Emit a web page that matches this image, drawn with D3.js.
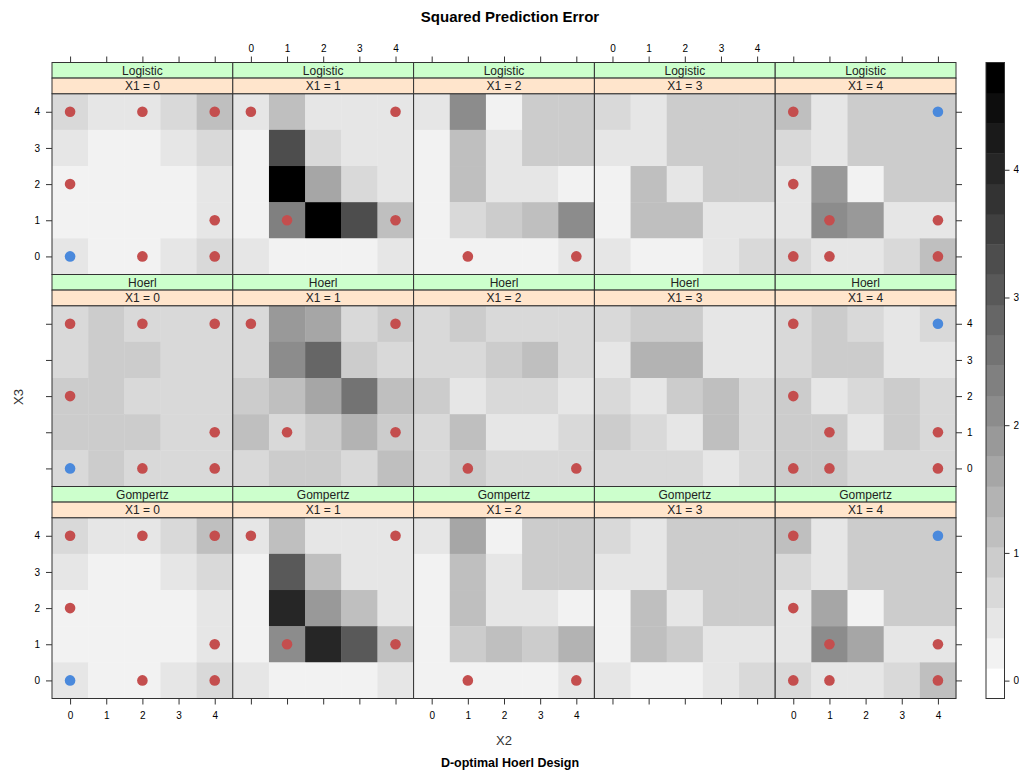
<!DOCTYPE html>
<html>
<head>
<meta charset="utf-8">
<script src="https://cdn.jsdelivr.net/npm/d3@7"></script>
<style>
  body { margin: 0; background: #fff; }
  svg text { font-family: "Liberation Sans", Arial, sans-serif; }
</style>
</head>
<body>
<svg id="chart" width="1019" height="771"></svg>
<script>
const models = ['Logistic', 'Hoerl', 'Gompertz'];
const x1Levels = [0, 1, 2, 3, 4];
const gridLevels = [0, 1, 2, 3, 4];
const keyTicks = [0, 1, 2, 3, 4];

// squared prediction error per X1 panel; rows are X3 = 4 (top) .. 0 (bottom), columns X2 = 0..4
const logistic = [
  [[0.7, 0.45, 0.45, 0.7, 1.15], [0.45, 0.2, 0.2, 0.45, 0.7], [0.2, 0.2, 0.2, 0.2, 0.45], [0.2, 0.2, 0.2, 0.2, 0.45], [0.45, 0.2, 0.2, 0.45, 0.7]],
  [[0.45, 1.15, 0.45, 0.45, 0.45], [0.2, 3.3, 0.7, 0.45, 0.45], [0.2, 4.7, 1.65, 0.7, 0.45], [0.2, 2.35, 4.7, 3.3, 1.15], [0.45, 0.2, 0.2, 0.2, 0.45]],
  [[0.45, 2.1, 0.2, 0.95, 0.95], [0.2, 1.15, 0.45, 0.95, 0.95], [0.2, 1.15, 0.45, 0.45, 0.2], [0.2, 0.7, 0.95, 1.15, 2.1], [0.2, 0.2, 0.2, 0.2, 0.45]],
  [[0.7, 0.45, 0.95, 0.95, 0.95], [0.45, 0.45, 0.95, 0.95, 0.95], [0.2, 1.15, 0.45, 0.95, 0.95], [0.2, 1.15, 1.15, 0.45, 0.45], [0.45, 0.2, 0.2, 0.45, 0.7]],
  [[1.15, 0.45, 0.95, 0.95, 0.95], [0.7, 0.45, 0.95, 0.95, 0.95], [0.45, 1.9, 0.2, 0.95, 0.95], [0.45, 2.1, 1.9, 0.45, 0.45], [0.7, 0.45, 0.45, 0.7, 1.15]]
];
const hoerl = [
  [[0.7, 0.95, 0.7, 0.7, 0.7], [0.7, 0.95, 0.95, 0.7, 0.7], [0.95, 0.95, 0.7, 0.7, 0.7], [0.95, 0.95, 0.95, 0.7, 0.7], [0.7, 0.95, 0.7, 0.7, 0.7]],
  [[0.7, 1.9, 1.65, 0.7, 0.95], [0.7, 2.1, 2.8, 0.95, 0.7], [0.95, 1.15, 1.65, 2.6, 1.15], [1.15, 0.7, 0.95, 1.4, 0.95], [0.7, 0.95, 0.95, 0.7, 1.15]],
  [[0.7, 0.95, 0.7, 0.7, 0.7], [0.7, 0.7, 0.95, 1.15, 0.7], [0.95, 0.45, 0.7, 0.7, 0.45], [0.7, 1.15, 0.45, 0.45, 0.7], [0.7, 0.95, 0.7, 0.7, 0.7]],
  [[0.7, 0.95, 0.95, 0.45, 0.45], [0.45, 1.4, 1.4, 0.45, 0.45], [0.7, 0.45, 0.95, 1.15, 0.7], [0.95, 0.7, 0.45, 1.15, 0.7], [0.7, 0.7, 0.7, 0.45, 0.7]],
  [[0.7, 0.95, 0.7, 0.45, 0.7], [0.7, 0.95, 0.95, 0.45, 0.45], [0.95, 0.45, 0.7, 0.95, 0.7], [0.95, 0.95, 0.45, 0.95, 0.7], [0.95, 0.95, 0.7, 0.7, 0.7]]
];
const gompertz = [
  [[0.7, 0.45, 0.45, 0.7, 1.15], [0.45, 0.2, 0.2, 0.45, 0.7], [0.2, 0.2, 0.2, 0.2, 0.45], [0.2, 0.2, 0.2, 0.2, 0.45], [0.45, 0.2, 0.2, 0.45, 0.7]],
  [[0.45, 1.15, 0.45, 0.45, 0.45], [0.2, 3.05, 1.15, 0.45, 0.45], [0.2, 4.0, 1.9, 1.15, 0.45], [0.2, 2.1, 4.0, 3.05, 1.15], [0.45, 0.2, 0.2, 0.2, 0.45]],
  [[0.45, 1.65, 0.2, 0.95, 0.95], [0.2, 1.15, 0.45, 0.95, 0.95], [0.2, 1.15, 0.45, 0.45, 0.2], [0.2, 0.95, 1.15, 0.95, 1.4], [0.2, 0.2, 0.2, 0.2, 0.45]],
  [[0.7, 0.45, 0.95, 0.95, 0.95], [0.45, 0.45, 0.95, 0.95, 0.95], [0.2, 1.15, 0.45, 0.95, 0.95], [0.2, 1.15, 0.95, 0.45, 0.45], [0.45, 0.2, 0.2, 0.45, 0.7]],
  [[1.15, 0.45, 0.95, 0.95, 0.95], [0.7, 0.45, 0.95, 0.95, 0.95], [0.45, 1.65, 0.2, 0.95, 0.95], [0.45, 2.1, 1.65, 0.45, 0.45], [0.7, 0.45, 0.45, 0.7, 1.15]]
];
const errors = [logistic, hoerl, gompertz];

// design points [X1, X2, X3]
const designRed = [
  [0, 0, 4], [0, 2, 4], [0, 4, 4], [0, 0, 2], [0, 4, 1], [0, 2, 0], [0, 4, 0],
  [1, 0, 4], [1, 4, 4], [1, 1, 1], [1, 4, 1],
  [2, 1, 0], [2, 4, 0],
  [4, 0, 4], [4, 0, 2], [4, 1, 1], [4, 4, 1], [4, 0, 0], [4, 1, 0], [4, 4, 0]
];
const designBlue = [[0, 0, 0], [4, 4, 4]];

const zRange = [-0.14, 4.84];
const nCuts = 21;

const svg = d3.select('#chart');
const margin = { left: 52, top: 62.5 };
const panelW = 180.8;
const stripH = 15.6;
const plotH = 180.8;
const rowH = 2 * stripH + plotH;
const right = margin.left + x1Levels.length * panelW;
const bottom = margin.top + models.length * rowH;
const tickLen = 6;

const grays = d3.range(nCuts).map(k => d3.interpolateRgb('#ffffff', '#000000')(k / (nCuts - 1)));
const colour = d3.scaleQuantize().domain(zRange).range(grays);

const styleAxis = (g) => {
  g.select('.domain').remove();
  g.selectAll('line').attr('stroke', '#333');
  g.selectAll('text').attr('fill', '#000').style('font-size', '10px');
};

models.forEach((model, r) => {
  const stripTop = margin.top + r * rowH;
  const plotTop = stripTop + 2 * stripH;
  const y = d3.scaleLinear().domain([-0.5, 4.5]).range([plotTop + plotH, plotTop]);

  x1Levels.forEach((x1, c) => {
    const x0 = margin.left + c * panelW;
    const x = d3.scaleLinear().domain([-0.5, 4.5]).range([x0, x0 + panelW]);
    const g = svg.append('g').attr('class', 'panel');

    const cells = [];
    errors[r][c].forEach((row, i) => row.forEach((v, j) => cells.push({ x2: j, x3: 4 - i, v })));

    g.selectAll('.cell')
      .data(cells)
      .enter()
      .append('rect')
      .attr('class', 'cell')
      .attr('x', d => x(d.x2 - 0.5))
      .attr('y', d => y(d.x3 + 0.5))
      .attr('width', x(0.5) - x(-0.5) + 0.4)
      .attr('height', y(-0.5) - y(0.5) + 0.4)
      .attr('fill', d => colour(d.v));

    g.selectAll('.red')
      .data(designRed.filter(d => d[0] === x1))
      .enter()
      .append('circle')
      .attr('class', 'red')
      .attr('cx', d => x(d[1]))
      .attr('cy', d => y(d[2]))
      .attr('r', 5.3)
      .attr('fill', '#c44e4e');

    g.selectAll('.blue')
      .data(designBlue.filter(d => d[0] === x1))
      .enter()
      .append('circle')
      .attr('class', 'blue')
      .attr('cx', d => x(d[1]))
      .attr('cy', d => y(d[2]))
      .attr('r', 5.3)
      .attr('fill', '#4a89dc');

    g.append('rect')
      .attr('x', x0)
      .attr('y', plotTop)
      .attr('width', panelW)
      .attr('height', plotH)
      .attr('fill', 'none')
      .attr('stroke', '#333');

    // strips: outer factor (model) on top, X1 next to the panel
    const strips = [
      { label: model, fill: '#ccffcc', top: stripTop },
      { label: `X1 = ${x1}`, fill: '#ffe5cc', top: stripTop + stripH }
    ];
    strips.forEach((s) => {
      g.append('rect')
        .attr('x', x0)
        .attr('y', s.top)
        .attr('width', panelW)
        .attr('height', stripH)
        .attr('fill', s.fill)
        .attr('stroke', '#333');
      g.append('text')
        .attr('x', x0 + panelW / 2)
        .attr('y', s.top + stripH / 2)
        .attr('dy', '0.35em')
        .attr('text-anchor', 'middle')
        .style('font-size', '12px')
        .attr('fill', '#222')
        .text(s.label);
    });

    if (r === 0) {
      svg.append('g')
        .attr('transform', `translate(0, ${margin.top})`)
        .call(d3.axisTop(x).tickValues(gridLevels).tickSize(tickLen).tickPadding(5)
          .tickFormat(c % 2 === 1 ? d3.format('d') : () => ''))
        .call(styleAxis);
    }
    if (r === models.length - 1) {
      svg.append('g')
        .attr('transform', `translate(0, ${bottom})`)
        .call(d3.axisBottom(x).tickValues(gridLevels).tickSize(tickLen).tickPadding(7)
          .tickFormat(c % 2 === 0 ? d3.format('d') : () => ''))
        .call(styleAxis);
    }
  });

  svg.append('g')
    .attr('transform', `translate(${margin.left}, 0)`)
    .call(d3.axisLeft(y).tickValues(gridLevels).tickSize(tickLen).tickPadding(6)
      .tickFormat(r % 2 === 0 ? d3.format('d') : () => ''))
    .call(styleAxis);

  svg.append('g')
    .attr('transform', `translate(${right}, 0)`)
    .call(d3.axisRight(y).tickValues(gridLevels).tickSize(tickLen).tickPadding(5)
      .tickFormat(r % 2 === 1 ? d3.format('d') : () => ''))
    .call(styleAxis);
});

// colour key
const keyX = 986;
const keyW = 18.5;
const yKey = d3.scaleLinear().domain(zRange).range([bottom, margin.top]);
const step = (zRange[1] - zRange[0]) / nCuts;
const breaks = d3.range(nCuts).map(k => zRange[0] + k * step);

svg.append('g')
  .selectAll('rect')
  .data(breaks)
  .enter()
  .append('rect')
  .attr('x', keyX)
  .attr('y', d => yKey(d + step))
  .attr('width', keyW)
  .attr('height', d => yKey(d) - yKey(d + step) + 0.4)
  .attr('fill', d => colour(d + step / 2));

svg.append('rect')
  .attr('x', keyX)
  .attr('y', margin.top)
  .attr('width', keyW)
  .attr('height', bottom - margin.top)
  .attr('fill', 'none')
  .attr('stroke', '#333');

svg.append('g')
  .attr('transform', `translate(${keyX + keyW}, 0)`)
  .call(d3.axisRight(yKey).tickValues(keyTicks).tickSize(5).tickPadding(4).tickFormat(d3.format('d')))
  .call(styleAxis);

// titles
svg.append('text')
  .attr('x', 510)
  .attr('y', 17)
  .attr('dy', '0.35em')
  .attr('text-anchor', 'middle')
  .style('font-size', '15px')
  .style('font-weight', 'bold')
  .text('Squared Prediction Error');

svg.append('text')
  .attr('x', (margin.left + right) / 2)
  .attr('y', 740)
  .attr('dy', '0.35em')
  .attr('text-anchor', 'middle')
  .style('font-size', '13px')
  .attr('fill', '#333')
  .text('X2');

svg.append('text')
  .attr('transform', 'translate(18, 397) rotate(-90)')
  .attr('dy', '0.35em')
  .attr('text-anchor', 'middle')
  .style('font-size', '13px')
  .attr('fill', '#333')
  .text('X3');

svg.append('text')
  .attr('x', 510)
  .attr('y', 763)
  .attr('dy', '0.35em')
  .attr('text-anchor', 'middle')
  .style('font-size', '12.5px')
  .style('font-weight', 'bold')
  .text('D-optimal Hoerl Design');
</script>
</body>
</html>
